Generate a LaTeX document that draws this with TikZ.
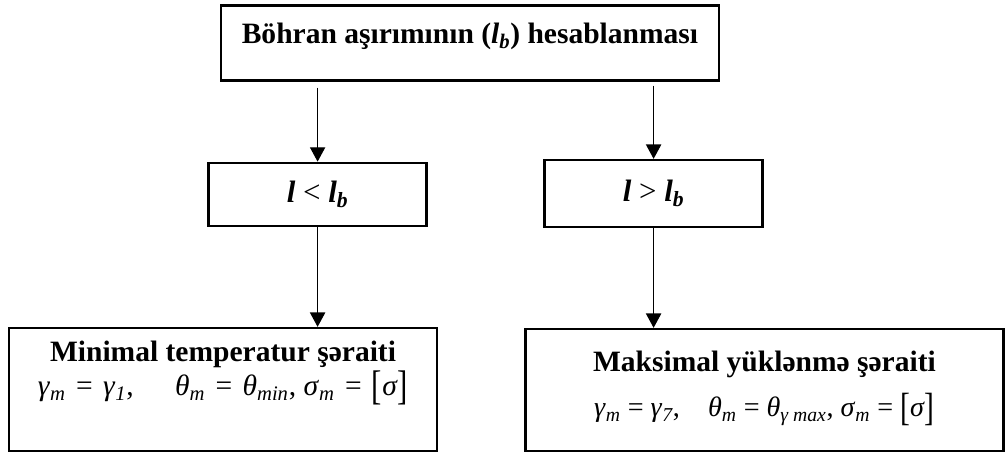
\documentclass[tikz,border=0pt]{standalone}
\usepackage{fontspec}
\setmainfont{Liberation Serif}
\usetikzlibrary{arrows.meta, positioning}
\tikzset{
  box/.style={rectangle, draw=black, line width=1.6pt, align=center,
    font=\fontsize{20}{24}\selectfont},
  flow/.style={-{Triangle[width=0.38cm,length=0.36cm]}, line width=1pt},
}
\newcommand{\sub}[1]{\textsubscript{\itshape #1}}
\newcommand{\brk}[1]{\raisebox{-0.14em}{\scalebox{1.05}[1.4]{#1}}}
\newcommand{\eqs}{\hspace{0.35em}=\hspace{0.35em}}

\begin{document}
\begin{tikzpicture}
\useasboundingbox (0,0) rectangle (25.125,-11.325);

% top: critical span
\node[box, font=\fontsize{21}{25}\selectfont, minimum width=12.45cm, minimum height=1.875cm, text height=0.5cm, text depth=0.45cm] (calc) at (11.75,-1.075)
  {\bfseries Böhran aşırımının (\textit{l}\sub{b}) hesablanması};

% two cases
\node[box, font=\fontsize{22}{26}\selectfont, minimum width=5.45cm, minimum height=1.58cm] (short) at (7.94,-4.86)
  {\bfseries\itshape l \textmd{\upshape <} l\sub{b}};
\node[box, font=\fontsize{22}{26}\selectfont, minimum width=5.45cm, minimum height=1.68cm] (long) at (16.34,-4.84)
  {\bfseries\itshape l \textmd{\upshape >} l\sub{b}};

% conditions
\node[box, font=\fontsize{21}{24}\selectfont, minimum width=10.7cm, minimum height=3.08cm, text depth=1.05cm] (minT) at (5.575,-9.74)
  {\textbf{Minimal temperatur şəraiti}\\
   \textit{γ}\sub{m}\eqs\textit{γ}\sub{1},\hspace{1.4em}\textit{θ}\sub{m}\eqs\textit{θ}\sub{min}, \textit{σ}\sub{m}\eqs\brk{[}\textit{σ}\brk{]}};
\node[box, font=\fontsize{21}{24}\selectfont, minimum width=11.95cm, minimum height=3.05cm, text depth=0.3cm] (maxL) at (19.11,-9.75)
  {\textbf{Maksimal yüklənmə şəraiti}\\[8pt]
   {\fontsize{20}{24}\selectfont\textit{γ}\sub{m} = \textit{γ}\sub{7},\quad \textit{θ}\sub{m} = \textit{θ}\sub{γ max}, \textit{σ}\sub{m} = \brk{[}\textit{σ}\brk{]}}};

\draw[flow, shorten <=0.15cm] (calc.south -| short.north) -- (short.north);
\draw[flow, shorten <=0.1cm] (calc.south -| long.north) -- (long.north);
\draw[flow] (short.south) -- (short.south |- minT.north);
\draw[flow] (long.south) -- (long.south |- maxL.north);
\end{tikzpicture}
\end{document}
